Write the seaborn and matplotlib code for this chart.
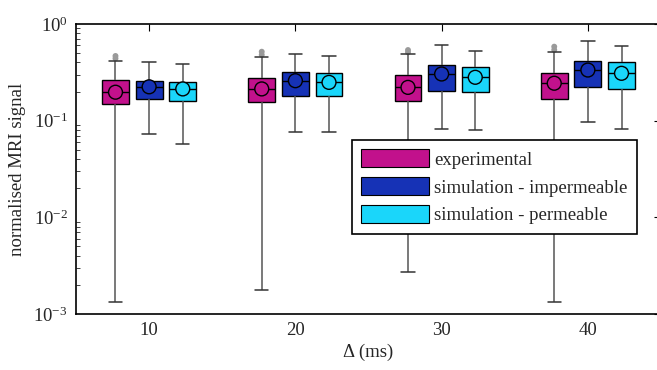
import numpy as np
import pandas as pd
import matplotlib
matplotlib.use("Agg")
import matplotlib.pyplot as plt
from matplotlib.patches import Patch
from matplotlib.ticker import LogLocator, NullFormatter, LogFormatterMathtext
import seaborn as sns

# ---------------- data ----------------
deltas = [10, 20, 30, 40]
series = ["experimental", "simulation - impermeable", "simulation - permeable"]
offsets = [-2.3, 0.0, 2.3]

exp_lo = [0.00134, 0.00177, 0.00275, 0.00134]
exp_q1 = [0.149, 0.155, 0.161, 0.167]
exp_med = [0.197, 0.213, 0.221, 0.244]
exp_q3 = [0.264, 0.274, 0.297, 0.309]
exp_hi = [0.418, 0.452, 0.49, 0.51]
exp_mean = [0.197, 0.213, 0.221, 0.244]
exp_out = [[0.44, 0.467], [0.48, 0.517], [0.51, 0.538], [0.54, 0.583]]

imp_lo = [0.0734, 0.077, 0.0827, 0.0977]
imp_q1 = [0.168, 0.181, 0.204, 0.221]
imp_med = [0.221, 0.259, 0.304, 0.334]
imp_q3 = [0.259, 0.321, 0.377, 0.418]
imp_hi = [0.402, 0.49, 0.602, 0.673]
imp_mean = [0.224, 0.259, 0.304, 0.334]

per_lo = [0.0578, 0.077, 0.080, 0.082]
per_q1 = [0.161, 0.181, 0.197, 0.213]
per_med = [0.213, 0.249, 0.281, 0.309]
per_q3 = [0.249, 0.309, 0.362, 0.402]
per_hi = [0.389, 0.47, 0.53, 0.597]
per_mean = [0.213, 0.249, 0.281, 0.309]

colors = ["#C2118C", "#1632B6", "#1AD6FA"]

# ---------------- tables ----------------
stats = [
    (exp_lo, exp_q1, exp_med, exp_q3, exp_hi),
    (imp_lo, imp_q1, imp_med, imp_q3, imp_hi),
    (per_lo, per_q1, per_med, per_q3, per_hi),
]
means = [exp_mean, imp_mean, per_mean]

rows = []
for si, (s, st) in enumerate(zip(series, stats)):
    for gi, d in enumerate(deltas):
        for arr in st:
            rows.append({"pos": d + offsets[si], "val": arr[gi], "series": s})
df = pd.DataFrame(rows)

mrows = []
for si, s in enumerate(series):
    for gi, d in enumerate(deltas):
        mrows.append({"pos": d + offsets[si], "val": means[si][gi], "series": s})
dfm = pd.DataFrame(mrows)

orows = []
for gi, d in enumerate(deltas):
    for v in exp_out[gi]:
        orows.append({"pos": d + offsets[0], "val": v})
dfo = pd.DataFrame(orows)

# ---------------- style ----------------
sns.set_theme(style="white")
plt.rcParams["font.family"] = ["Liberation Serif", "DejaVu Serif"]
plt.rcParams["mathtext.fontset"] = "custom"
plt.rcParams["mathtext.rm"] = "Liberation Serif"
plt.rcParams["mathtext.it"] = "Liberation Serif:italic"

fig = plt.figure(figsize=(6.57, 3.70), dpi=100)
ax = fig.add_axes([76 / 657, 1 - 314 / 370, (661 - 76) / 657, (314 - 24) / 370])

palette = dict(zip(series, colors))

sns.boxplot(
    data=df, x="pos", y="val", hue="series", palette=palette,
    native_scale=True, log_scale=(False, True), dodge=False,
    whis=(0, 100), width=0.8, saturation=1, linecolor="black", linewidth=1.0,
    whiskerprops=dict(color="#555555", linewidth=1.1),
    capprops=dict(color="#333333", linewidth=1.1),
    medianprops=dict(color="black", linewidth=1.0),
    showfliers=False, legend=False, ax=ax,
)

sns.scatterplot(data=dfo, x="pos", y="val", color="#9a9a9a", s=18,
                edgecolor="none", legend=False, ax=ax, zorder=1)

sns.scatterplot(data=dfm, x="pos", y="val", hue="series", palette=palette,
                s=100, edgecolor="black", linewidth=1.0, legend=False, ax=ax,
                zorder=5)

ax.set_yscale("log")
ax.set_ylim(1e-3, 1)
ax.set_xlim(5, 45)
ax.set_xticks(deltas)
ax.set_xticklabels([str(d) for d in deltas])
ax.yaxis.set_major_locator(LogLocator(base=10, numticks=10))
ax.yaxis.set_major_formatter(LogFormatterMathtext())
ax.yaxis.set_minor_locator(LogLocator(base=10, subs=np.arange(2, 10), numticks=20))
ax.yaxis.set_minor_formatter(NullFormatter())

ax.tick_params(axis="both", which="major", direction="in", length=5, width=0.8,
               top=True, right=True, labelsize=13.5, color="black", pad=6)
ax.tick_params(axis="y", which="minor", direction="in", length=3, width=0.6,
               left=True, right=True)
for sp in ax.spines.values():
    sp.set_color("black")
    sp.set_linewidth(1.2)

ax.set_xlabel("\u0394 (ms)", fontsize=13.5, labelpad=3)
ax.set_ylabel("normalised MRI signal", fontsize=13.5, labelpad=5)
ax.grid(False)

handles = [Patch(facecolor=c, edgecolor="black", linewidth=0.8) for c in colors]
leg = fig.legend(handles, series, loc="upper left",
                 bbox_to_anchor=(352 / 657, 1 - 140 / 370),
                 bbox_transform=fig.transFigure, fontsize=13.5, frameon=True,
                 fancybox=False, shadow=False, framealpha=1, edgecolor="black",
                 borderaxespad=0, borderpad=0.5, handlelength=3.6,
                 handleheight=1.1, handletextpad=0.3, labelspacing=0.45)
leg.get_frame().set_linewidth(1.2)

fig.savefig("out.png", dpi=100)
